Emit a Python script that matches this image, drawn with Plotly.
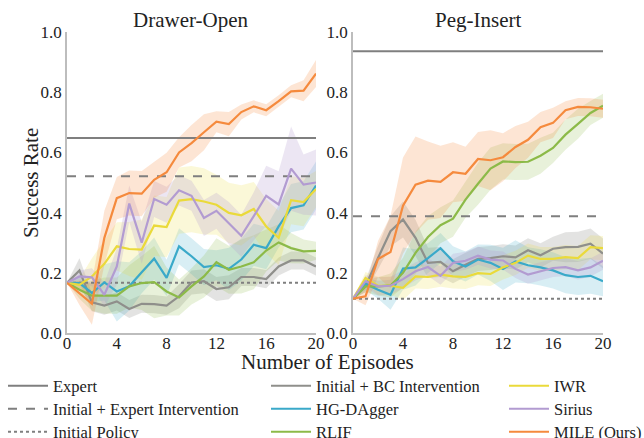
import plotly.graph_objects as go

episodes = list(range(21))

# ---- Drawer-Open ----
do_expert = 0.648
do_init_expert = 0.521
do_initial = 0.167
do_bc = [0.167, 0.208, 0.102, 0.091, 0.105, 0.080, 0.097, 0.096, 0.091, 0.122, 0.168,
         0.172, 0.146, 0.152, 0.186, 0.186, 0.179, 0.221, 0.241, 0.241, 0.221]
do_bc_sd = [0, 0.04, 0.03, 0.03, 0.03, 0.03, 0.03, 0.03, 0.03, 0.04, 0.04,
            0.04, 0.04, 0.04, 0.03, 0.03, 0.03, 0.03, 0.03, 0.03, 0.03]
do_hg = [0.167, 0.166, 0.133, 0.168, 0.138, 0.155, 0.202, 0.247, 0.183, 0.288, 0.255,
         0.219, 0.225, 0.213, 0.244, 0.293, 0.282, 0.354, 0.415, 0.424, 0.490]
do_hg_sd = [0, 0.02, 0.03, 0.06, 0.10, 0.08, 0.07, 0.07, 0.06, 0.06, 0.06,
            0.06, 0.05, 0.07, 0.07, 0.07, 0.07, 0.07, 0.08, 0.08, 0.08]
do_rlif = [0.167, 0.144, 0.124, 0.124, 0.124, 0.155, 0.166, 0.169, 0.138, 0.118, 0.155,
           0.188, 0.235, 0.210, 0.221, 0.235, 0.274, 0.301, 0.282, 0.271, 0.273]
do_rlif_sd = [0, 0.03, 0.05, 0.06, 0.06, 0.07, 0.09, 0.12, 0.08, 0.06, 0.06,
              0.07, 0.08, 0.08, 0.09, 0.09, 0.07, 0.06, 0.05, 0.04, 0.03]
do_iwr = [0.167, 0.160, 0.188, 0.230, 0.288, 0.279, 0.277, 0.357, 0.352, 0.440, 0.445,
          0.437, 0.426, 0.399, 0.391, 0.412, 0.354, 0.316, 0.441, 0.435, 0.478]
do_iwr_sd = [0, 0.02, 0.06, 0.08, 0.08, 0.09, 0.10, 0.10, 0.10, 0.11, 0.11,
             0.11, 0.10, 0.10, 0.10, 0.09, 0.09, 0.09, 0.08, 0.08, 0.06]
do_sirius = [0.167, 0.188, 0.185, 0.127, 0.221, 0.430, 0.300, 0.445, 0.426, 0.474, 0.456,
             0.382, 0.406, 0.365, 0.323, 0.388, 0.456, 0.427, 0.546, 0.493, 0.500]
do_sirius_sd = [0, 0.02, 0.03, 0.04, 0.06, 0.06, 0.07, 0.06, 0.06, 0.05, 0.05,
                0.06, 0.06, 0.07, 0.07, 0.08, 0.10, 0.11, 0.14, 0.10, 0.11]
do_mile = [0.167, 0.133, 0.097, 0.316, 0.448, 0.465, 0.463, 0.509, 0.534, 0.600, 0.631,
           0.667, 0.702, 0.694, 0.734, 0.753, 0.740, 0.770, 0.803, 0.805, 0.862]
do_mile_sd = [0, 0.04, 0.07, 0.09, 0.07, 0.075, 0.075, 0.06, 0.065, 0.05, 0.06,
              0.06, 0.035, 0.04, 0.025, 0.02, 0.02, 0.02, 0.02, 0.035, 0.045]

# ---- Peg-Insert ----
pi_expert = 0.936
pi_init_expert = 0.388
pi_initial = 0.114
pi_bc = [0.114, 0.155, 0.249, 0.338, 0.377, 0.316, 0.233, 0.236, 0.205, 0.227, 0.246,
         0.249, 0.255, 0.251, 0.275, 0.258, 0.280, 0.285, 0.286, 0.297, 0.264]
pi_bc_sd = [0, 0.02, 0.04, 0.05, 0.06, 0.06, 0.05, 0.05, 0.04, 0.04, 0.04,
            0.04, 0.04, 0.04, 0.04, 0.04, 0.04, 0.05, 0.05, 0.05, 0.05]
pi_hg = [0.114, 0.163, 0.144, 0.127, 0.214, 0.218, 0.249, 0.282, 0.238, 0.221, 0.244,
         0.233, 0.213, 0.238, 0.225, 0.218, 0.208, 0.192, 0.186, 0.190, 0.172]
pi_hg_sd = [0, 0.02, 0.03, 0.05, 0.07, 0.06, 0.05, 0.05, 0.05, 0.05, 0.05,
            0.06, 0.07, 0.07, 0.06, 0.06, 0.06, 0.06, 0.06, 0.06, 0.05]
pi_rlif = [0.114, 0.155, 0.155, 0.158, 0.200, 0.266, 0.319, 0.358, 0.380, 0.443, 0.496,
           0.546, 0.570, 0.568, 0.569, 0.589, 0.615, 0.659, 0.695, 0.731, 0.755]
pi_rlif_sd = [0, 0.02, 0.03, 0.04, 0.05, 0.07, 0.07, 0.06, 0.06, 0.06, 0.07,
              0.07, 0.06, 0.06, 0.06, 0.06, 0.05, 0.05, 0.05, 0.04, 0.04]
pi_iwr = [0.114, 0.183, 0.157, 0.157, 0.150, 0.188, 0.186, 0.194, 0.188, 0.186, 0.199,
          0.196, 0.218, 0.233, 0.257, 0.246, 0.246, 0.252, 0.249, 0.285, 0.282]
pi_iwr_sd = [0, 0.02, 0.03, 0.03, 0.04, 0.04, 0.04, 0.04, 0.04, 0.04, 0.04,
             0.04, 0.04, 0.04, 0.04, 0.04, 0.04, 0.04, 0.04, 0.04, 0.04]
pi_sirius = [0.114, 0.172, 0.155, 0.157, 0.179, 0.205, 0.219, 0.190, 0.233, 0.240, 0.257,
             0.244, 0.241, 0.213, 0.194, 0.205, 0.216, 0.219, 0.208, 0.218, 0.240]
pi_sirius_sd = [0, 0.02, 0.03, 0.03, 0.03, 0.03, 0.03, 0.03, 0.03, 0.03, 0.03,
                0.03, 0.03, 0.03, 0.03, 0.03, 0.03, 0.03, 0.03, 0.03, 0.03]
pi_mile = [0.114, 0.122, 0.246, 0.269, 0.423, 0.493, 0.506, 0.502, 0.534, 0.529, 0.578,
           0.574, 0.584, 0.618, 0.642, 0.684, 0.698, 0.740, 0.751, 0.750, 0.745]
pi_mile_sd = [0, 0.03, 0.06, 0.12, 0.16, 0.16, 0.13, 0.12, 0.10, 0.09, 0.09,
              0.10, 0.08, 0.07, 0.06, 0.05, 0.05, 0.03, 0.03, 0.03, 0.03]

x_ticks = [0, 4, 8, 12, 16, 20]
y_ticks = [0.0, 0.2, 0.4, 0.6, 0.8, 1.0]

ref_names = ["Expert", "Initial + Expert Intervention", "Initial Policy"]
names = ["Initial + BC Intervention", "HG-DAgger", "RLIF", "IWR", "Sirius", "MILE (Ours)"]
colors = ["#8f8f8b", "#3aa9c9", "#8cba48", "#eada3a", "#b29bd1", "#f58a3d"]
fills = ["rgba(143,143,139,0.25)", "rgba(58,169,201,0.2)", "rgba(140,186,72,0.2)",
         "rgba(234,218,58,0.2)", "rgba(178,155,209,0.25)", "rgba(245,138,61,0.22)"]

panels = [
    (do_expert, do_init_expert, do_initial,
     [(do_bc, do_bc_sd), (do_hg, do_hg_sd), (do_rlif, do_rlif_sd),
      (do_iwr, do_iwr_sd), (do_sirius, do_sirius_sd), (do_mile, do_mile_sd)]),
    (pi_expert, pi_init_expert, pi_initial,
     [(pi_bc, pi_bc_sd), (pi_hg, pi_hg_sd), (pi_rlif, pi_rlif_sd),
      (pi_iwr, pi_iwr_sd), (pi_sirius, pi_sirius_sd), (pi_mile, pi_mile_sd)]),
]

FONT = "Liberation Serif, serif"
TXT = "#222222"
W, H = 644, 438
fig = go.Figure()
ref_color = "#7f7f7f"

# legend layout: one legend per entry, 3 columns x 3 rows (column-major order)
col_x = [3, 266, 504]
row_y = [386, 409, 432]
legend_ids = ["legend" if k == 0 else f"legend{k + 1}" for k in range(9)]

for p, (expert, init_exp, initial, series) in enumerate(panels):
    xa = "x" if p == 0 else "x2"
    ya = "y" if p == 0 else "y2"
    first = p == 0
    for i, (m, sd) in enumerate(series):
        up = [a + b for a, b in zip(m, sd)]
        lo = [a - b for a, b in zip(m, sd)]
        fig.add_trace(go.Scatter(x=episodes + episodes[::-1], y=up + lo[::-1],
                                 fill="toself", fillcolor=fills[i], line=dict(width=0),
                                 mode="lines", hoverinfo="skip", showlegend=False,
                                 xaxis=xa, yaxis=ya))
    for k, (val, dash) in enumerate([(expert, "solid"), (init_exp, "dash"), (initial, "dot")]):
        fig.add_trace(go.Scatter(x=[0, 20], y=[val, val], mode="lines", name=ref_names[k],
                                 line=dict(color=ref_color, width=2, dash=dash),
                                 showlegend=first, legend=legend_ids[k],
                                 xaxis=xa, yaxis=ya))
    for i, (m, sd) in enumerate(series):
        fig.add_trace(go.Scatter(x=episodes, y=m, mode="lines", name=names[i],
                                 line=dict(color=colors[i], width=2.2),
                                 showlegend=first, legend=legend_ids[3 + i],
                                 xaxis=xa, yaxis=ya))

def axis(**kw):
    d = dict(showgrid=False, zeroline=False, showline=True, linecolor="#bdbdbd",
             linewidth=1.5, ticks="", automargin=False,
             tickfont=dict(family=FONT, size=17, color=TXT))
    d.update(kw)
    return d

leg_font = dict(family=FONT, size=16.5, color=TXT)
layout_legends = {}
for k, lid in enumerate(legend_ids):
    c, r = k // 3, k % 3
    layout_legends[lid] = dict(x=col_x[c] / W, y=1 - row_y[r] / H, xanchor="left",
                               yanchor="middle", bgcolor="rgba(0,0,0,0)", font=leg_font,
                               itemwidth=40, borderwidth=0)

fig.update_layout(
    width=W, height=H, margin=dict(l=0, r=0, t=0, b=0, autoexpand=False),
    plot_bgcolor="white", paper_bgcolor="white",
    font=dict(family=FONT, color=TXT),
    xaxis=axis(domain=[67 / W, 316 / W], range=[0, 20], tickvals=x_ticks, anchor="y",
               ticklabelstandoff=-6),
    yaxis=axis(domain=[1 - 333 / H, 1 - 32 / H], range=[0, 1], tickvals=y_ticks,
               tickformat=".1f", anchor="x"),
    xaxis2=axis(domain=[353 / W, 603 / W], range=[0, 20], tickvals=x_ticks, anchor="y2",
                ticklabelstandoff=-6),
    yaxis2=axis(domain=[1 - 333 / H, 1 - 32 / H], range=[0, 1], tickvals=y_ticks,
                tickformat=".1f", anchor="x2"),
    annotations=[
        dict(text="Drawer-Open", x=191 / W, y=1 - 20 / H, xref="paper", yref="paper",
             xanchor="center", yanchor="middle",
             showarrow=False, font=dict(family=FONT, size=21, color=TXT)),
        dict(text="Peg-Insert", x=478 / W, y=1 - 20 / H, xref="paper", yref="paper",
             xanchor="center", yanchor="middle",
             showarrow=False, font=dict(family=FONT, size=21, color=TXT)),
        dict(text="Success Rate", x=31 / W, y=1 - 183 / H, xref="paper", yref="paper",
             xanchor="center", yanchor="middle",
             showarrow=False, textangle=-90, font=dict(family=FONT, size=21, color=TXT)),
        dict(text="Number of Episodes", x=327 / W, y=1 - 362 / H, xref="paper", yref="paper",
             xanchor="center", yanchor="middle",
             showarrow=False, font=dict(family=FONT, size=21, color=TXT)),
    ],
    **layout_legends,
)
fig.write_html("out.html", config={"displayModeBar": False},
               post_script="document.body.style.margin='0';")
